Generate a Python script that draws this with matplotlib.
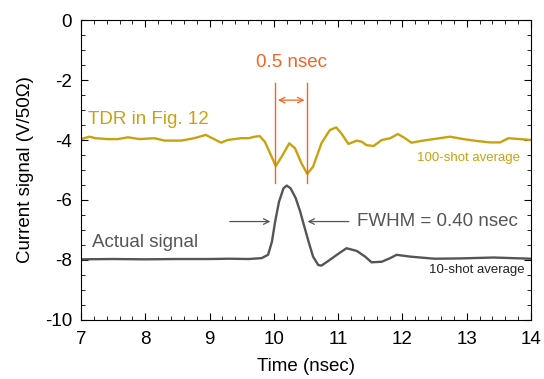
import matplotlib
matplotlib.use("Agg")
import matplotlib.pyplot as plt
from matplotlib.ticker import MultipleLocator

plt.rcParams['font.family'] = ['Liberation Sans', 'DejaVu Sans']
plt.rcParams['axes.unicode_minus'] = False

# TDR trace (100-shot average)
tdr_t = [7.0, 7.13, 7.23, 7.41, 7.57, 7.73, 7.91, 8.14, 8.3, 8.56, 8.76,
         8.94, 9.07, 9.18, 9.28, 9.49, 9.61, 9.7, 9.78, 9.86, 9.94, 10.03,
         10.12, 10.24, 10.33, 10.43, 10.52, 10.61, 10.74, 10.87, 10.97,
         11.05, 11.16, 11.29, 11.37, 11.44, 11.55, 11.68, 11.81, 11.93,
         12.04, 12.14, 12.32, 12.58, 12.74, 12.95, 13.15, 13.36, 13.52,
         13.65, 13.83, 14.0]
tdr_v = [-3.97, -3.89, -3.94, -3.97, -3.97, -3.91, -3.97, -3.94, -4.02,
         -4.02, -3.94, -3.83, -3.97, -4.09, -4.0, -3.94, -3.94, -3.89, -3.87,
         -4.06, -4.44, -4.87, -4.56, -4.11, -4.28, -4.78, -5.13, -4.89,
         -4.11, -3.67, -3.58, -3.78, -4.13, -4.02, -4.06, -4.17, -4.2, -4.0,
         -3.94, -3.8, -3.94, -4.09, -4.02, -3.94, -3.89, -3.97, -4.03, -4.08,
         -4.08, -3.94, -3.97, -4.0]

# actual signal (10-shot average)
sig_t = [7.0, 7.5, 8.0, 8.5, 9.0, 9.3, 9.61, 9.81, 9.91, 9.97, 10.02, 10.08,
         10.15, 10.2, 10.26, 10.34, 10.41, 10.46, 10.54, 10.61, 10.69, 10.74,
         10.85, 10.98, 11.13, 11.29, 11.42, 11.52, 11.68, 11.81, 11.91,
         12.12, 12.5, 12.9, 13.42, 14.0]
sig_v = [-7.98, -7.97, -7.98, -7.97, -7.97, -7.96, -7.97, -7.94, -7.83,
         -7.39, -6.72, -6.06, -5.61, -5.52, -5.61, -5.94, -6.39, -6.78,
         -7.39, -7.89, -8.17, -8.19, -8.03, -7.83, -7.61, -7.7, -7.89,
         -8.08, -8.06, -7.94, -7.83, -7.89, -7.96, -7.95, -7.92, -7.96]

gold = '#c9a20f'
gray = '#555555'
orange = '#f26522'
fs = 13.5

fig = plt.figure(figsize=(5.44, 3.79), dpi=100)
ax = fig.add_axes([0.149, 0.156, 0.827, 0.791])

ax.plot(tdr_t, tdr_v, color=gold, lw=1.7, solid_joinstyle='round')
ax.plot(sig_t, sig_v, color=gray, lw=1.7, solid_joinstyle='round')

# 0.5 nsec markers
for xv in (10.02, 10.52):
    ax.plot([xv, xv], [-2.1, -5.44], color=orange, lw=1)
ax.annotate('', xy=(10.52, -2.67), xytext=(10.02, -2.67),
            arrowprops=dict(arrowstyle='<->', color=orange, lw=0.9))
ax.text(10.27, -1.4, '0.5 nsec', color=orange, fontsize=fs,
        ha='center', va='center')

# FWHM arrows
ax.annotate('', xy=(9.99, -6.72), xytext=(9.27, -6.72),
            arrowprops=dict(arrowstyle='->', color=gray, lw=0.9))
ax.annotate('', xy=(10.48, -6.72), xytext=(11.21, -6.72),
            arrowprops=dict(arrowstyle='->', color=gray, lw=0.9))
ax.text(11.29, -6.72, 'FWHM = 0.40 nsec', color=gray, fontsize=fs,
        ha='left', va='center')

ax.text(7.11, -3.6, 'TDR in Fig. 12', color=gold, fontsize=fs,
        ha='left', va='bottom')
ax.text(13.83, -4.6, '100-shot average', color=gold, fontsize=9.5,
        ha='right', va='center')
ax.text(7.17, -7.43, 'Actual signal', color=gray, fontsize=fs,
        ha='left', va='center')
ax.text(13.9, -8.33, '10-shot average', color='#222222', fontsize=9.5,
        ha='right', va='center')

ax.set_xlim(7, 14)
ax.set_ylim(-10, 0)
ax.xaxis.set_major_locator(MultipleLocator(1))
ax.xaxis.set_minor_locator(MultipleLocator(0.2))
ax.yaxis.set_major_locator(MultipleLocator(2))
ax.yaxis.set_minor_locator(MultipleLocator(0.5))
ax.tick_params(which='both', direction='in', top=True, right=True,
               labelsize=fs)
ax.tick_params(axis='y', pad=6.5)
ax.tick_params(axis='x', pad=8)
ax.tick_params(which='major', length=5)
ax.tick_params(which='minor', length=3)
ax.set_xlabel('Time (nsec)', fontsize=fs, labelpad=7)
ax.set_ylabel('Current signal (V/50\u03a9)', fontsize=fs, labelpad=8)

fig.savefig('out.png', dpi=100)
